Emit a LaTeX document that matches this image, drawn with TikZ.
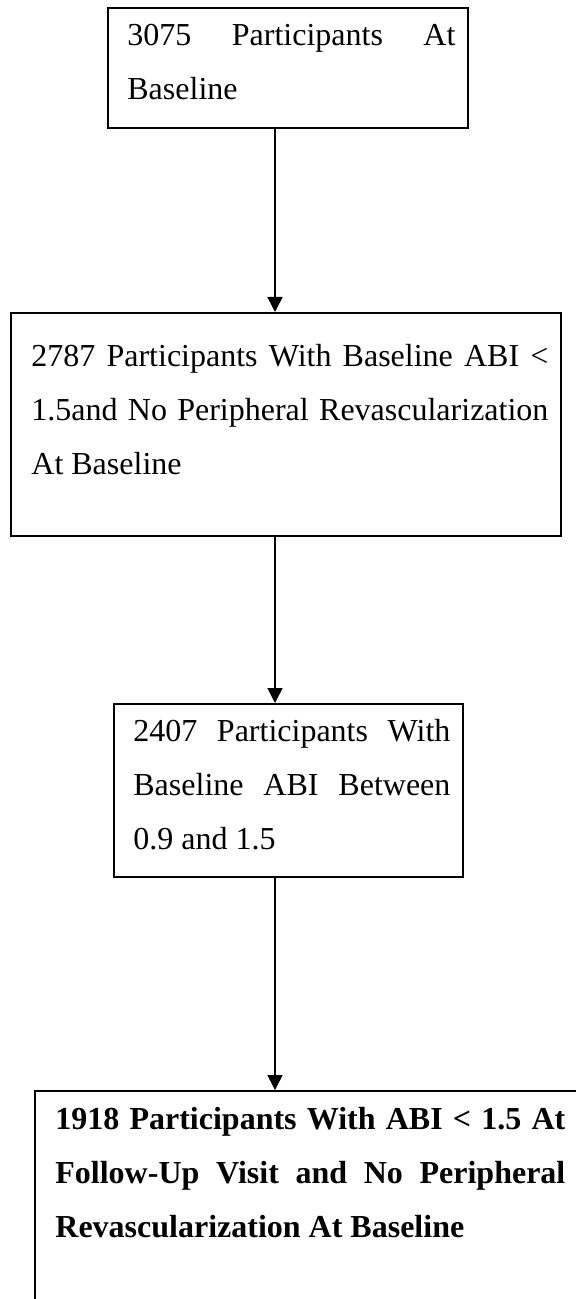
\documentclass[tikz,border=0pt]{standalone}
\usepackage{fontspec}
\setmainfont{Liberation Serif}
\usetikzlibrary{positioning}
\usetikzlibrary{arrows.meta}
\usetikzlibrary{calc}

\hyphenpenalty=10000
\exhyphenpenalty=10000
\tolerance=10000

\tikzset{
  flowbox/.style={draw, line width=0.8pt, inner sep=0pt, anchor=north west},
  flowtext/.style={inner sep=0pt, anchor=north west, align=justify,
    font=\fontsize{16}{27}\selectfont},
  flowarrow/.style={-{Triangle[width=7.5pt,length=7.5pt]}, line width=0.8pt},
}
\newcommand{\topstrut}{\leavevmode\vrule width 0pt height 12pt\relax}

\begin{document}
\begin{tikzpicture}[x=0.5pt,y=-0.5pt]
    \useasboundingbox (0,0) rectangle (576,1299);
    \clip (0,0) rectangle (576,1299);
    \coordinate (spine) at (275,0);
    % boxes
    \node[flowbox, minimum width=180pt, minimum height=60pt] (b1) at (107,7) {};
    \node[flowbox, minimum width=275pt, minimum height=111.5pt] (b2) at (10,312) {};
    \node[flowbox, minimum width=174.5pt, minimum height=86.5pt] (b3) at (113,703) {};
    \node[flowbox, minimum width=280pt, minimum height=130pt] (b4) at (34,1090) {};
    % texts
    \node[flowtext, text width=164pt] (t1) at (127,21)
        {\topstrut 3075 Participants At Baseline};
    \node[flowtext, text width=258.5pt] (t2) at (31,342)
        {\topstrut 2787 Participants With Baseline ABI < 1.5and No Peripheral Revascularization At Baseline};
    \node[flowtext, text width=158.5pt] (t3) at (133,717)
        {\topstrut 2407 Participants With Baseline ABI Between 0.9 and 1.5};
    \node[flowtext, text width=255pt, font=\fontsize{16}{27}\selectfont\bfseries] (t4) at (55,1105)
        {\topstrut 1918 Participants With ABI < 1.5 At Follow-Up Visit and No Peripheral Revascularization At Baseline};
    % arrows
    \draw[flowarrow] (b1.south -| spine) -- (b2.north -| spine);
    \draw[flowarrow] (b2.south -| spine) -- (b3.north -| spine);
    \draw[flowarrow] (b3.south -| spine) -- (b4.north -| spine);
\end{tikzpicture}
\end{document}
